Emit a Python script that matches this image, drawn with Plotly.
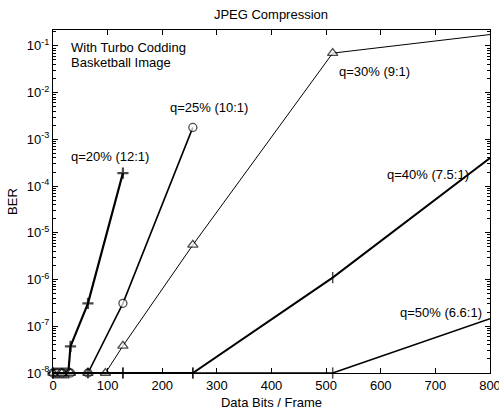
import math
import plotly.graph_objects as go

# BER versus data bits per frame for several JPEG quality settings
x_q20 = [0, 4, 8, 12, 16, 20, 24, 28, 32, 64, 128]
ber_q20 = [1e-8, 1e-8, 1e-8, 1e-8, 1e-8, 1e-8, 1e-8, 1e-8, 3.7e-8, 3.1e-7, 1.9e-4]

x_q25 = [0, 8, 16, 32, 64, 128, 256]
ber_q25 = [1e-8, 1e-8, 1e-8, 1e-8, 1e-8, 3.1e-7, 1.8e-3]

x_q30 = [0, 16, 32, 64, 96, 128, 256, 512, 800]
ber_q30 = [1e-8, 1e-8, 1e-8, 1e-8, 1e-8, 3.8e-8, 5.5e-6, 7.0e-2, 1.75e-1]

x_q40 = [0, 64, 128, 256, 512, 800]
ber_q40 = [1e-8, 1e-8, 1e-8, 1e-8, 1.1e-6, 4.0e-4]

x_q50 = [0, 128, 256, 512, 800]
ber_q50 = [1e-8, 1e-8, 1e-8, 1e-8, 1.45e-7]

series_labels = ["q=20% (12:1)", "q=25% (10:1)", "q=30% (9:1)", "q=40% (7.5:1)", "q=50% (6.6:1)"]

y_tick_exponents = [-8, -7, -6, -5, -4, -3, -2, -1]
x_tick_values = [0, 100, 200, 300, 400, 500, 600, 700, 800]

FONT = "Liberation Sans, Arial, sans-serif"
FS = 13

fig = go.Figure()

def add_series(x, y, symbol, size, lw, mlw, show_last=True):
    sizes = [size] * len(x)
    if not show_last:
        sizes[-1] = 0
    fig.add_trace(go.Scatter(
        x=x, y=y, mode="lines+markers", cliponaxis=False,
        line=dict(color="black", width=lw),
        marker=dict(symbol=symbol, size=sizes, color="white",
                    line=dict(color="black", width=mlw)),
        showlegend=False,
    ))

add_series(x_q20, ber_q20, "cross-thin", 8, 2.2, 2.2)
add_series(x_q25, ber_q25, "circle", 8, 1.6, 1.3)
add_series(x_q30, ber_q30, "triangle-up", 9, 1.0, 1.3, show_last=False)
add_series(x_q40, ber_q40, "line-ns", 8, 2.0, 1.5, show_last=False)
add_series(x_q50, ber_q50, "line-ns", 8, 1.6, 1.5, show_last=False)

# Curve labels and the note in the upper-left corner (y given in decades)
label_pos = [(29, 4.3e-4), (211, 4.7e-3), (519, 2.8e-2), (607, 1.75e-4), (631, 2.0e-7)]
for (lx, ly), text in zip(label_pos, series_labels):
    fig.add_annotation(x=lx, y=math.log10(ly), text=text, showarrow=False,
                       xanchor="left", yanchor="middle",
                       font=dict(family=FONT, size=FS, color="black"))

fig.add_annotation(x=29, y=math.log10(9.1e-2), text="With Turbo Codding", showarrow=False,
                   xanchor="left", yanchor="middle",
                   font=dict(family=FONT, size=FS, color="black"))
fig.add_annotation(x=29, y=math.log10(4.4e-2), text="Basketball Image", showarrow=False,
                   xanchor="left", yanchor="middle",
                   font=dict(family=FONT, size=FS, color="black"))

minor_vals = [m * 10.0 ** e for e in range(-8, 0) for m in range(2, 10)]

fig.update_xaxes(
    range=[0, 800], tickvals=x_tick_values, ticks="inside", ticklen=5,
    tickcolor="black", showline=True, linecolor="black", linewidth=1,
    mirror="ticks", showgrid=False, zeroline=False, ticklabeloverflow="allow",
    automargin=False,
    tickfont=dict(family=FONT, size=FS, color="black"),
    title=dict(text="Data Bits / Frame", font=dict(family=FONT, size=FS, color="black"),
               standoff=6),
)
fig.update_yaxes(
    type="log", range=[-8, -0.66],
    tickvals=[10.0 ** e for e in y_tick_exponents],
    ticktext=[f"10<sup>{e}</sup>" for e in y_tick_exponents],
    ticks="inside", ticklen=5, tickcolor="black",
    minor=dict(tickvals=minor_vals, ticks="inside", ticklen=3, tickcolor="black"),
    showline=True, linecolor="black", linewidth=1, mirror="ticks",
    showgrid=False, zeroline=False, automargin=False,
    tickfont=dict(family=FONT, size=FS, color="black"),
    title=dict(text="BER", font=dict(family=FONT, size=FS, color="black"), standoff=6),
)

fig.update_layout(
    width=499, height=412,
    margin=dict(l=53, r=9, t=30, b=39),
    paper_bgcolor="white", plot_bgcolor="white",
    title=dict(text="JPEG Compression", x=0.543, xanchor="center", y=0.966, yanchor="middle",
               font=dict(family=FONT, size=FS, color="black")),
)

fig.write_html("out.html")
